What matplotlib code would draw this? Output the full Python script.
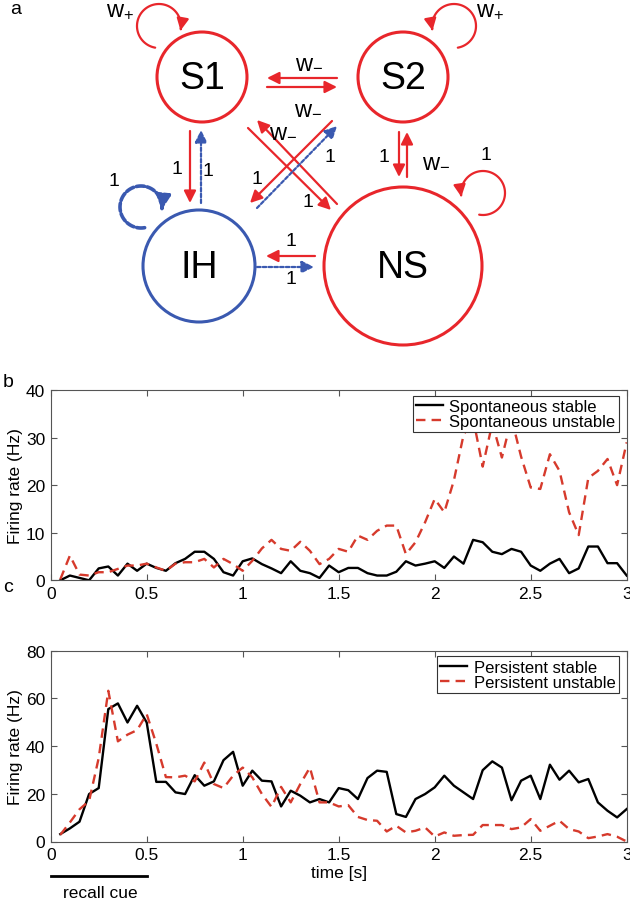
import numpy as np
import matplotlib
matplotlib.use('Agg')
import matplotlib.pyplot as plt
from matplotlib.patches import Circle, FancyArrowPatch
from matplotlib.path import Path
from matplotlib.transforms import blended_transform_factory

plt.rcParams['font.family'] = ['Liberation Sans', 'DejaVu Sans']
plt.rcParams['mathtext.fontset'] = 'custom'
plt.rcParams['mathtext.rm'] = 'Liberation Sans'
plt.rcParams['mathtext.it'] = 'Liberation Sans:italic'

# time grid (s), one sample every 50 ms
t = np.linspace(0.05, 3.0, 60)

# panel b: spontaneous state (Hz)
spont_stable = [0.0, 1.0, 0.5, 0.0, 2.5, 2.9, 1.0, 3.5, 2.0, 3.5,
                2.6, 2.0, 3.6, 4.5, 6.0, 6.0, 4.5, 1.7, 1.0, 4.0,
                4.6, 3.4, 2.5, 1.5, 4.0, 2.0, 1.5, 0.5, 3.1, 1.7,
                2.6, 2.6, 1.5, 1.0, 1.0, 1.8, 4.0, 3.1, 3.5, 4.0,
                2.6, 5.0, 3.5, 8.5, 8.0, 6.0, 5.5, 6.6, 6.0, 3.1,
                2.0, 3.5, 4.5, 1.5, 2.5, 7.1, 7.1, 3.6, 3.6, 1.0]
spont_unstable = [0.2, 5.2, 1.2, 1.0, 1.7, 1.7, 2.4, 3.1, 3.1, 3.5,
                  2.7, 2.0, 3.5, 3.8, 3.8, 4.5, 2.7, 4.5, 3.4, 2.0,
                  4.1, 6.7, 8.5, 6.6, 6.2, 8.1, 6.2, 3.4, 4.5, 6.6,
                  6.0, 9.4, 8.5, 10.4, 11.5, 11.5, 5.5, 8.0, 12.2, 17.1,
                  14.3, 21.0, 30.5, 34.0, 23.9, 33.0, 25.8, 34.0, 26.0, 19.5,
                  19.2, 26.5, 23.0, 14.3, 9.5, 21.5, 23.0, 25.5, 20.0, 29.0]

# panel c: persistent state (Hz)
pers_stable = [3.1, 5.5, 8.3, 19.9, 22.4, 55.5, 57.9, 49.9, 56.9, 49.9,
               25.0, 25.0, 20.6, 19.9, 27.8, 23.4, 25.2, 34.1, 37.6, 23.4,
               29.7, 25.5, 25.2, 14.7, 21.3, 19.2, 16.4, 17.8, 16.4, 22.4,
               21.5, 17.8, 26.6, 29.7, 29.2, 11.5, 10.3, 17.8, 19.9, 22.7,
               27.6, 23.4, 20.6, 17.8, 29.9, 33.6, 31.0, 17.3, 25.5, 27.6,
               17.8, 32.2, 25.9, 29.7, 24.8, 26.2, 16.4, 12.9, 10.1, 13.6]
pers_unstable = [2.8, 8.0, 13.5, 17.0, 35.0, 63.2, 42.0, 44.8, 46.7, 53.4,
                 41.0, 27.0, 26.9, 27.6, 25.2, 33.1, 24.1, 22.4, 27.6, 31.0,
                 26.9, 19.9, 14.5, 22.9, 16.4, 24.1, 31.0, 16.4, 16.4, 14.7,
                 15.2, 10.3, 9.0, 8.7, 4.2, 6.6, 3.8, 4.5, 5.9, 2.1,
                 3.8, 2.4, 2.7, 2.8, 6.9, 6.9, 6.9, 5.2, 5.9, 9.4,
                 4.5, 6.6, 8.7, 5.2, 4.2, 1.4, 2.1, 3.1, 2.0, 0.0]

xticks = [0, 0.5, 1, 1.5, 2, 2.5, 3]
xticklabels = ['0', '0.5', '1', '1.5', '2', '2.5', '3']
recall_cue = (0.0, 0.5)

RED = '#e8262b'
BLUE = '#3a59b0'
LRED = '#d63a2c'

fig = plt.figure(figsize=(6.3, 9.03), dpi=100)

# ---- panel a: network diagram, drawn in pixel coordinates
ax0 = fig.add_axes([0, 0, 1, 1])
ax0.set_xlim(0, 630)
ax0.set_ylim(903, 0)
ax0.axis('off')

nodes = {'S1': (202, 78, 45, RED), 'S2': (403, 78, 45, RED),
         'IH': (199, 267, 56, BLUE), 'NS': (403, 267, 79, RED)}
for name, (x, y, r, c) in nodes.items():
    ax0.add_patch(Circle((x, y), r, fill=False, ec=c, lw=2.2))
    ax0.text(x, y + 1, name, fontsize=27, ha='center', va='center')

AST = '-|>,head_length=0.6,head_width=0.3'


def arrow(x0, y0, x1, y1, color, dotted=False):
    ls = (0, (1.6, 1.0)) if dotted else '-'
    ax0.add_patch(FancyArrowPatch((x0, y0), (x1, y1), arrowstyle=AST,
                                  mutation_scale=12, color=color, lw=1.6,
                                  linestyle=ls, shrinkA=0, shrinkB=0))


def loop(cx, cy, r, a0, a1, color, lw=1.6, ls='-', ms=12):
    a = np.radians(np.linspace(a0, a1, 80))
    pts = np.column_stack([cx + r * np.cos(a), cy + r * np.sin(a)])
    ax0.add_patch(FancyArrowPatch(path=Path(pts), arrowstyle=AST,
                                  mutation_scale=ms, color=color, lw=lw,
                                  linestyle=ls))


# S1 <-> S2
arrow(337, 79, 267, 79, RED)
arrow(267, 88, 337, 88, RED)
# S1 <-> IH
arrow(190, 132, 190, 204, RED)
arrow(201, 204, 201, 131, BLUE, dotted=True)
# S2 <-> NS
arrow(399, 133, 399, 178, RED)
arrow(407, 178, 407, 133, RED)
# diagonals
arrow(248, 129, 331, 211, RED)
arrow(337, 205, 257, 121, RED)
arrow(332, 122, 250, 204, RED)
arrow(257, 209, 337, 127, BLUE, dotted=True)
# NS <-> IH
arrow(315, 257, 266, 257, RED)
arrow(257, 268, 314, 268, BLUE, dotted=True)
# self connections
loop(159, 27, 22, 100, 372, RED)
loop(454, 27, 22, 80, -192, RED)
loop(483, 194, 22, 100, -190, RED)
loop(141, 208, 21, 80, 368, BLUE, lw=2.6, ls=(0, (2.2, 0.8)), ms=14)

wp = r'$\mathrm{w}_{+}$'
wm = r'$\mathrm{w}_{-}$'
wlabels = [(120, 10, wp), (490, 10, wp), (309, 62, wm), (308, 108, wm),
           (283, 131, wm), (436, 161, wm)]
for x, y, s in wlabels:
    ax0.text(x, y, s, fontsize=17, ha='center', va='center')

ones = [(177, 170), (208, 172), (114, 182), (384, 157), (330, 157), (257, 180),
        (308, 203), (486, 155), (291, 242), (291, 280)]
for x, y in ones:
    ax0.text(x, y, '1', fontsize=14, ha='center', va='center')

fig.text(16 / 630, 1 - 10 / 903, 'a', fontsize=14, ha='center', va='center')
fig.text(8 / 630, 1 - 383 / 903, 'b', fontsize=14, ha='center', va='center')
fig.text(8 / 630, 1 - 588 / 903, 'c', fontsize=14, ha='center', va='center')

# ---- panels b and c
axb = fig.add_axes([50.7 / 630, (903 - 581.3) / 903, 576 / 630, 190.3 / 903])
axc = fig.add_axes([50.7 / 630, (903 - 842.5) / 903, 576 / 630, 190.8 / 903])

dash = (0, (4, 2.6))
axb.plot(t, spont_stable, color='black', lw=1.7, label='Spontaneous stable')
axb.plot(t, spont_unstable, color=LRED, lw=1.7, ls=dash, label='Spontaneous unstable')
axc.plot(t, pers_stable, color='black', lw=1.7, label='Persistent stable')
axc.plot(t, pers_unstable, color=LRED, lw=1.7, ls=dash, label='Persistent unstable')

for ax, ymax, yt in [(axb, 40, [0, 10, 20, 30, 40]), (axc, 80, [0, 20, 40, 60, 80])]:
    ax.set_xlim(0, 3)
    ax.set_ylim(0, ymax)
    ax.set_xticks(xticks)
    ax.set_xticklabels(xticklabels)
    ax.set_yticks(yt)
    ax.tick_params(direction='in', top=True, right=True, length=4, width=0.8,
                   color='#555555', labelsize=12.5, pad=4)
    for sp in ax.spines.values():
        sp.set_color('#555555')
        sp.set_linewidth(0.8)
    ax.set_ylabel('Firing rate (Hz)', fontsize=12.5)
    ax.yaxis.set_label_coords(-0.048, 0.5)
    leg = ax.legend(loc='upper right', bbox_to_anchor=(0.986, 0.97), borderaxespad=0,
                    fontsize=12, fancybox=False, framealpha=1, edgecolor='#333333',
                    handlelength=1.6, handletextpad=0.4, labelspacing=0.0, borderpad=0.2)
    leg.get_frame().set_linewidth(0.8)

axc.set_xlabel('time [s]', fontsize=12.5, labelpad=2)

tr = blended_transform_factory(axc.transData, fig.transFigure)
axc.plot(recall_cue, [1 - 877 / 903] * 2, color='black', lw=2, transform=tr, clip_on=False)
axc.text(sum(recall_cue) / 2 + 0.01, 1 - 894 / 903, 'recall cue', fontsize=12.5,
         ha='center', va='center', transform=tr)

fig.savefig('out.png', dpi=100)
